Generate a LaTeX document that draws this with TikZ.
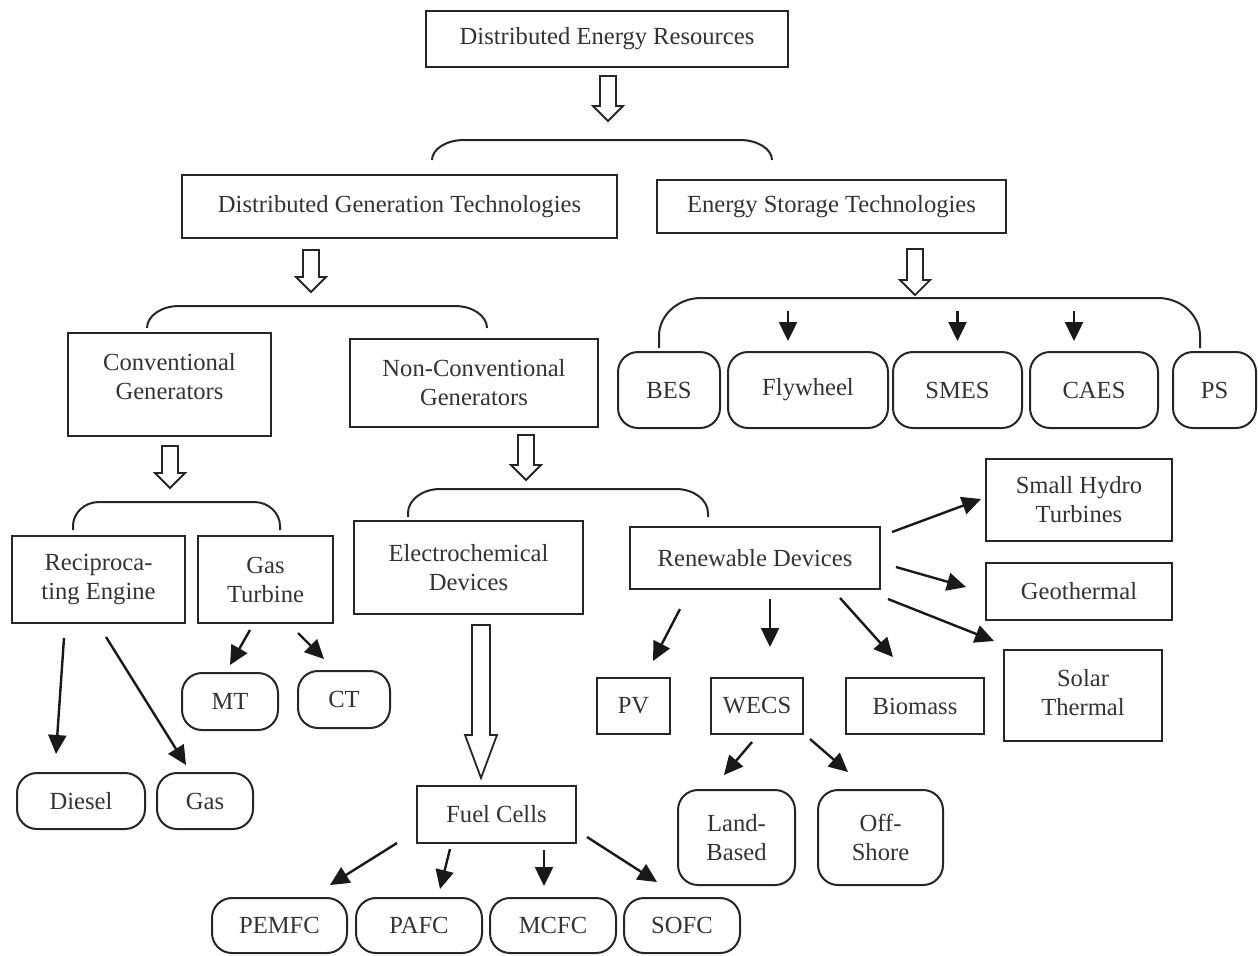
\documentclass[tikz,border=0pt]{standalone}
\usepackage{fontspec}
\setmainfont{Liberation Serif}
\usetikzlibrary{arrows.meta,calc}
\newcommand\hdown[6]{\draw[harrow] (#1-#4,#2) -- (#1+#4,#2) -- (#1+#4,#3-#6) -- (#1+#5,#3-#6) -- (#1,#3) -- (#1-#5,#3-#6) -- (#1-#4,#3-#6) -- cycle;}
\newcommand\bracketline[6]{\draw[brace] (#1,#4) -- (#1,#3+#6) .. controls (#1,#3+#6*0.45) and (#1+#5*0.45,#3) .. (#1+#5,#3) -- (#2-#5,#3) .. controls (#2-#5*0.45,#3) and (#2,#3+#6*0.45) .. (#2,#3+#6) -- (#2,#4);}
\begin{document}
\begin{tikzpicture}[x=0.5pt,y=-0.5pt,
  txt/.style={align=center, inner sep=0pt, text=black!80, font=\fontsize{12.3}{14.5}\selectfont},
  box/.style={txt, draw=black!85, line width=1pt},
  rbox/.style={box, rounded corners=10pt},
  sz/.style 2 args={minimum width=#1*0.5pt, minimum height=#2*0.5pt},
  arr/.style={-{Triangle[length=9.5pt,width=9pt]}, line width=1.2pt, draw=black!90},
  harrow/.style={draw=black!85, line width=0.9pt, fill=white, line join=miter},
  brace/.style={draw=black!85, line width=1pt}]
\useasboundingbox (0,0) rectangle (1258,955);
% rectangular boxes
\node[box,sz={362}{56}] (der) at (607,39) {Distributed Energy Resources};
\node[box,sz={435}{63}] (dgt) at (399.5,206.5) {Distributed Generation Technologies};
\node[box,sz={349}{53}] (est) at (831.5,206.5) {Energy Storage Technologies};
\node[box,sz={203}{103},label={[txt,yshift=4pt]center:Conventional\\Generators}] (conv) at (169.5,384.5) {};
\node[box,sz={248}{88}] (nconv) at (474,383) {Non-Conventional\\Generators};
\node[box,sz={173}{87}] (recip) at (98.5,579.5) {Reciproca-\\ting Engine};
\node[box,sz={135}{87}] (gast) at (265.5,579.5) {Gas\\Turbine};
\node[box,sz={229}{93}] (echem) at (468.5,567.5) {Electrochemical\\Devices};
\node[box,sz={250}{62}] (ren) at (755,558) {Renewable Devices};
\node[box,sz={186}{82}] (hydro) at (1079,500) {Small Hydro\\Turbines};
\node[box,sz={186}{57}] (geo) at (1079,591.5) {Geothermal};
\node[box,sz={158}{91},label={[txt,yshift=1.5pt]center:Solar\\Thermal}] (solar) at (1083,695.5) {};
\node[box,sz={73}{56}] (pv) at (633.5,706) {PV};
\node[box,sz={92}{56}] (wecs) at (757,706) {WECS};
\node[box,sz={138}{56}] (bio) at (915,706) {Biomass};
\node[box,sz={159}{57}] (fc) at (496.5,814.5) {Fuel Cells};
% rounded boxes
\node[rbox,sz={102}{76}] (bes) at (669,390) {BES};
\node[rbox,sz={160}{76}] (fly) at (808,390) {Flywheel};
\node[rbox,sz={129}{76}] (smes) at (957.5,390) {SMES};
\node[rbox,sz={128}{76}] (caes) at (1094,390) {CAES};
\node[rbox,sz={83}{76}] (ps) at (1214.5,390) {PS};
\node[rbox,sz={96}{57}] (mt) at (230,701.5) {MT};
\node[rbox,sz={92}{57}] (ct) at (344,699.5) {CT};
\node[rbox,sz={128}{56}] (diesel) at (81,801) {Diesel};
\node[rbox,sz={96}{56}] (gas) at (205,801) {Gas};
\node[rbox,sz={135}{55}] (pemfc) at (279.5,925.5) {PEMFC};
\node[rbox,sz={126}{55}] (pafc) at (419,925.5) {PAFC};
\node[rbox,sz={126}{55}] (mcfc) at (553,925.5) {MCFC};
\node[rbox,sz={116}{55}] (sofc) at (682,925.5) {SOFC};
\node[rbox,sz={117}{95}] (land) at (736.5,837.5) {Land-\\Based};
\node[rbox,sz={125}{95}] (off) at (880.5,837.5) {Off-\\Shore};
% hollow arrows
\hdown{608}{76}{121}{8}{15}{15}
\hdown{311}{250}{292}{8}{15}{15}
\hdown{915}{249}{295}{8}{15}{15}
\hdown{170}{446}{488}{8}{15}{15}
\hdown{526}{435}{480}{8}{15}{15}
\hdown{481}{625}{778}{9}{16}{43}
% brackets
\bracketline{432}{772}{140}{160}{32}{20}
\bracketline{147}{487}{306}{328}{32}{22}
\bracketline{659}{1200}{298}{348}{42}{38}
\bracketline{73}{280}{502}{530}{26}{24}
\bracketline{408}{708}{489}{517}{32}{24}
% storage arrows
\draw[arr] ($(fly.north)+(-20,-40)$) -- ($(fly.north)+(-20,-10)$);
\draw[arr] ($(smes.north)+(0,-40)$) -- ($(smes.north)+(0,-10)$);
\draw[arr] ($(caes.north)+(-20,-40)$) -- ($(caes.north)+(-20,-10)$);
% conventional
\draw[arr] ($(recip.south)+(-34.5,14)$) -- ($(diesel.north)+(-25,-18)$);
\draw[arr] ($(recip.south)+(7.5,13)$) -- ($(gas.north)+(-19,-7)$);
\draw[arr] ($(gast.south)+(-15.5,6)$) -- ($(mt.north)+(0,-7)$);
\draw[arr] ($(gast.south)+(32.5,9)$) -- ($(ct.north)+(-20,-11)$);
% fuel cells
\draw[arr] ($(fc.south west)+(-19,-1)$) -- ($(pemfc.north)+(50.5,-12)$);
\draw[arr] ($(fc.south)+(-46.5,5)$) -- ($(pafc.north)+(21,-8)$);
\draw[arr] ($(fc.south)+(47.5,6)$) -- ($(mcfc.north)+(-9,-11)$);
\draw[arr] ($(fc.south east)+(10,-7)$) -- ($(sofc.north)+(-25,-15)$);
% renewable
\draw[arr] ($(ren.south)+(-75,19)$) -- ($(pv.north)+(19.5,-16)$);
\draw[arr] ($(ren.south)+(15,9)$) -- ($(wecs.north)+(13,-30)$);
\draw[arr] ($(ren.south)+(85,8)$) -- ($(bio.north)+(-22,-20)$);
\draw[arr] ($(ren.south east)+(7,9)$) -- ($(solar.north west)+(-9,-8)$);
\draw[arr] ($(ren.north east)+(11,6)$) -- ($(hydro.west)+(-4,-1)$);
\draw[arr] ($(ren.east)+(15,9)$) -- ($(geo.west)+(-19,-4.5)$);
% wecs
\draw[arr] ($(wecs.south)+(-5,7)$) -- ($(land.north)+(-12.5,-14)$);
\draw[arr] ($(wecs.south)+(53,4)$) -- ($(off.north)+(-32.5,-17)$);
\end{tikzpicture}
\end{document}
